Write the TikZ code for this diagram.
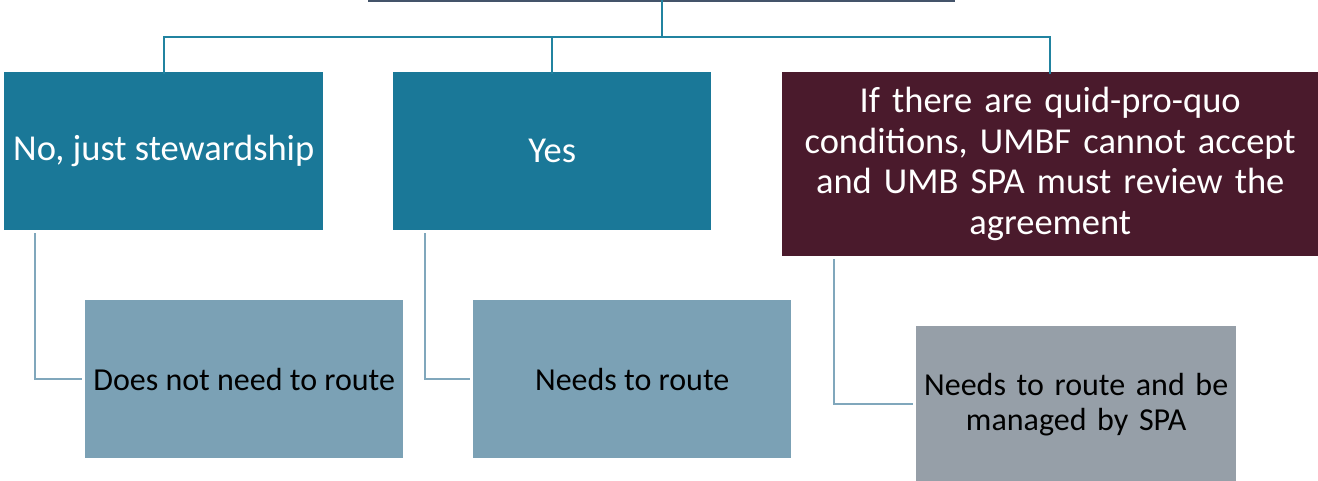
\documentclass[tikz,border=0pt]{standalone}
\usepackage{fontspec}
\setmainfont{Carlito}
\definecolor{topc}{HTML}{44546A}
\definecolor{teal}{HTML}{1A7898}
\definecolor{maroon}{HTML}{4A1A2C}
\definecolor{lowc}{HTML}{7BA1B5}
\definecolor{grayc}{HTML}{969FA8}
\definecolor{busc}{HTML}{2183A0}
\definecolor{linkc}{HTML}{80A7BC}
\begin{document}
\begin{tikzpicture}[x=1pt,y=-1pt,
  upper/.style={rectangle, inner sep=0pt, anchor=north west, text=white, align=center, font=\fontsize{36.5}{40.5}\selectfont},
  lower/.style={rectangle, inner sep=0pt, anchor=north west, text=black, align=center, font=\fontsize{32}{35}\selectfont},
  bus/.style={draw=busc, line width=2pt},
  link/.style={draw=linkc, line width=2.5pt, shorten <=3pt, shorten >=3pt}]
\useasboundingbox (0,0) rectangle (1318,480);
\clip (0,0) rectangle (1318,480);
% top (cut off) box
\node[rectangle, draw=topc, fill=white, line width=3.5pt, minimum width=583pt, minimum height=40pt, anchor=south, inner sep=0pt] (top) at (661.5,1.5) {};
% level 1
\node[upper, fill=teal, minimum width=319pt, minimum height=158pt] (b1) at (4,72) {No, just stewardship};
\node[upper, fill=teal, minimum width=318pt, minimum height=158pt] (b2) at (393,72) {Yes};
\node[upper, fill=maroon, minimum width=536pt, minimum height=184pt, text width=530pt] (b3) at (782,72) {If there are quid-pro-quo\\conditions, UMBF cannot accept\\and UMB SPA must review the\\agreement};
% level 2
\node[lower, fill=lowc, minimum width=318pt, minimum height=158pt] (c1) at (85,300) {Does not need to route};
\node[lower, fill=lowc, minimum width=318pt, minimum height=158pt] (c2) at (473,300) {Needs to route};
\node[lower, fill=grayc, minimum width=320pt, minimum height=156pt, text width=310pt] (c3) at (916,326) {Needs to route and be\\managed by SPA};
% bus connectors
\coordinate (hub) at (661.5,37);
\draw[bus] ([yshift=3pt]top.south) -- (hub);
\draw[bus] (hub) -| ([yshift=-2pt]b1.north);
\draw[bus] (hub) -| ([yshift=-2pt]b2.north);
\draw[bus] (hub) -| ([yshift=-2pt]b3.north);
% child links
\draw[link] ([xshift=31pt]b1.south west) |- (c1.west);
\draw[link] ([xshift=32pt]b2.south west) |- (c2.west);
\draw[link] ([xshift=52pt]b3.south west) |- (c3.west);
\end{tikzpicture}
\end{document}
